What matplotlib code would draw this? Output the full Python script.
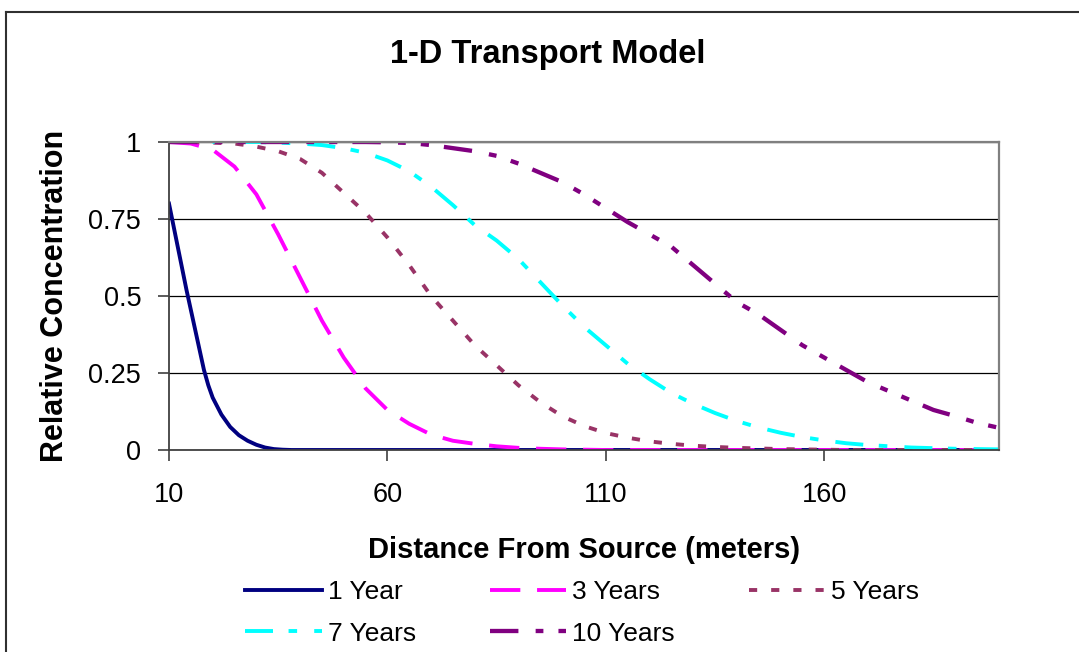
import numpy as np
import matplotlib
matplotlib.use("Agg")
import matplotlib.pyplot as plt
from matplotlib.lines import Line2D

plt.rcParams['font.family'] = ['Liberation Sans', 'DejaVu Sans']

# distancia (m) y concentracion relativa
dist = list(range(10, 205, 5))

dist_1 = [10, 12, 14, 16, 18, 19, 20, 22, 24, 26, 28, 30, 32, 34, 36, 38, 200]
conc_1 = [0.80, 0.66, 0.52, 0.39, 0.26, 0.21, 0.17, 0.115, 0.075, 0.048, 0.03,
          0.017, 0.008, 0.003, 0.001, 0, 0]

conc_3 = [1.0, 0.995, 0.975, 0.92, 0.83, 0.70, 0.56, 0.42, 0.30, 0.20, 0.13,
          0.085, 0.05, 0.03, 0.02, 0.012, 0.007, 0.004, 0.002, 0.001] + [0] * 19

conc_5 = [1.0, 1.0, 0.998, 0.995, 0.985, 0.97, 0.945, 0.90, 0.835, 0.77, 0.69,
          0.60, 0.50, 0.42, 0.34, 0.275, 0.21, 0.155, 0.11, 0.078, 0.055, 0.04,
          0.028, 0.02, 0.014, 0.01, 0.007, 0.005, 0.003, 0.002, 0.001] + [0] * 8

conc_7 = [1.0] * 5 + [0.998, 0.995, 0.99, 0.98, 0.965, 0.94, 0.905, 0.855, 0.795,
          0.73, 0.68, 0.62, 0.545, 0.47, 0.40, 0.34, 0.28, 0.23, 0.185, 0.15,
          0.12, 0.094, 0.073, 0.056, 0.042, 0.031, 0.022, 0.016, 0.012, 0.008,
          0.006, 0.004, 0.003, 0.002]

conc_10 = [1.0] * 10 + [0.999, 0.997, 0.99, 0.98, 0.97, 0.955, 0.93, 0.90, 0.87,
           0.83, 0.785, 0.74, 0.70, 0.66, 0.60, 0.54, 0.48, 0.44, 0.39, 0.34,
           0.30, 0.26, 0.22, 0.19, 0.16, 0.13, 0.11, 0.088, 0.072]

labels = ["1 Year", "3 Years", "5 Years", "7 Years", "10 Years"]
xticks = [10, 60, 110, 160]
yticks = [0, 0.25, 0.5, 0.75, 1]

fig = plt.figure(figsize=(10.79, 6.52), dpi=100)
ax = fig.add_axes([169/1079, 1 - 450/652, 830/1079, 308/652])

lw = 2.8
l1, = ax.plot(dist_1, conc_1, color="#000080", lw=lw, label=labels[0])
l3, = ax.plot(dist, conc_3, color="#FF00FF", lw=lw, dashes=(7.8, 4.3), label=labels[1])
l5, = ax.plot(dist, conc_5, color="#993366", lw=lw, dashes=(2.1, 3.6), label=labels[2])
l7, = ax.plot(dist, conc_7, color="#00FFFF", lw=lw, dashes=(7.2, 4.0, 2.2, 4.4), label=labels[3])
l10, = ax.plot(dist, conc_10, color="#800080", lw=3.1, dashes=(6.6, 4.0, 1.8, 3.5, 1.9, 3.5), label=labels[4])

ax.set_xlim(10, 200)
ax.set_ylim(0, 1)
ax.set_xticks(xticks)
ax.set_yticks(yticks)
ax.set_yticklabels(["0", "0.25", "0.5", "0.75", "1"])
ax.yaxis.grid(True, color="black", lw=0.9)
ax.set_axisbelow(True)

for s in ["top", "right"]:
    ax.spines[s].set_color("#808080")
    ax.spines[s].set_linewidth(1.6)
for s in ["left", "bottom"]:
    ax.spines[s].set_color("#404040")
    ax.spines[s].set_linewidth(1.3)

ax.tick_params(axis="both", labelsize=19.5, color="#404040", width=1.2)
ax.tick_params(axis="y", length=8, pad=12)
ax.tick_params(axis="x", length=8, pad=15)

fig.text(548/1079, 1 - 54/652, "1-D Transport Model", fontsize=23.5, fontweight="bold",
         ha="center", va="center")
ax.set_xlabel("Distance From Source (meters)", fontsize=21, fontweight="bold", labelpad=20)
ax.set_ylabel("Relative Concentration", fontsize=22, fontweight="bold", labelpad=13)

# orden por filas como en Excel
fig.legend([l1, l7, l3, l10, l5], [labels[0], labels[3], labels[1], labels[4], labels[2]],
           loc="center left", bbox_to_anchor=(245/1079, 1 - 613/652), ncol=3, frameon=False,
           fontsize=19, handlelength=2.9, handletextpad=0.23, columnspacing=2.8,
           labelspacing=0.66, borderpad=0, borderaxespad=0)

# marco exterior del grafico
fig.add_artist(Line2D([6/1079, 6/1079], [0, 1 - 12/652], transform=fig.transFigure,
                      color="#303030", lw=1.5))
fig.add_artist(Line2D([6/1079, 1], [1 - 12/652, 1 - 12/652], transform=fig.transFigure,
                      color="#303030", lw=1.5))

fig.savefig("out.png", dpi=100)
